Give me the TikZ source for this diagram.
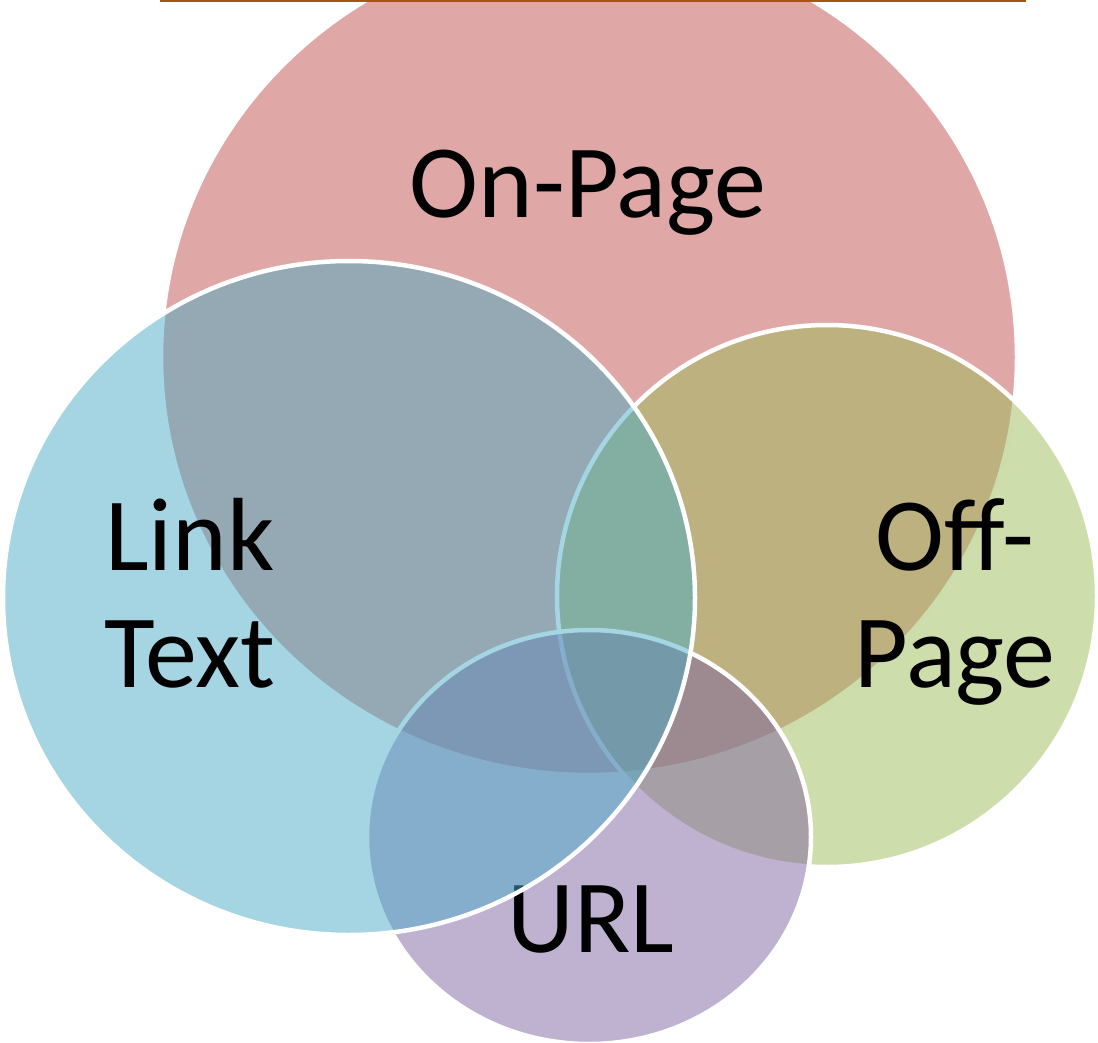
\documentclass[tikz,border=0pt]{standalone}
\usepackage{fontspec}
\setmainfont{Carlito}
\usetikzlibrary{positioning}
\definecolor{onred}{HTML}{C0504D}
\definecolor{offgreen}{HTML}{9BBB59}
\definecolor{urlpurple}{HTML}{8064A2}
\definecolor{linkblue}{HTML}{4BACC6}
\definecolor{titleline}{HTML}{A8550C}
\tikzset{
  set/.style={draw=white, line width=4.5pt, fill opacity=0.5},
  set text/.style={font=\fontsize{104}{117}\selectfont, align=center, inner sep=0pt}
}
\begin{document}
\begin{tikzpicture}[x=1pt,y=-1pt]
  \useasboundingbox (0,0) rectangle (1098,1043);
  % sets, bottom to top
  \path[set, fill=onred] (589,357) ellipse [x radius=428, y radius=418];
  \node[set text, anchor=base] (onpage) at (588,218) {On-Page};
  \path[set, fill=offgreen] (827,596) ellipse [x radius=270, y radius=271];
  \node[set text, anchor=base] (offpage) at (955,687) {Off-\\Page};
  \path[set, fill=urlpurple] (589,837) ellipse [x radius=222, y radius=207];
  \node[set text, anchor=base] (url) at (591,952) {URL};
  \path[set, fill=linkblue] (349,598) ellipse [x radius=346, y radius=337];
  \node[set text, anchor=base] (linktext) at (190,687) {Link\\Text};
  % edge of the title box
  \draw[titleline, line width=3pt] (160,0.5) -- (1026,0.5);
\end{tikzpicture}
\end{document}
